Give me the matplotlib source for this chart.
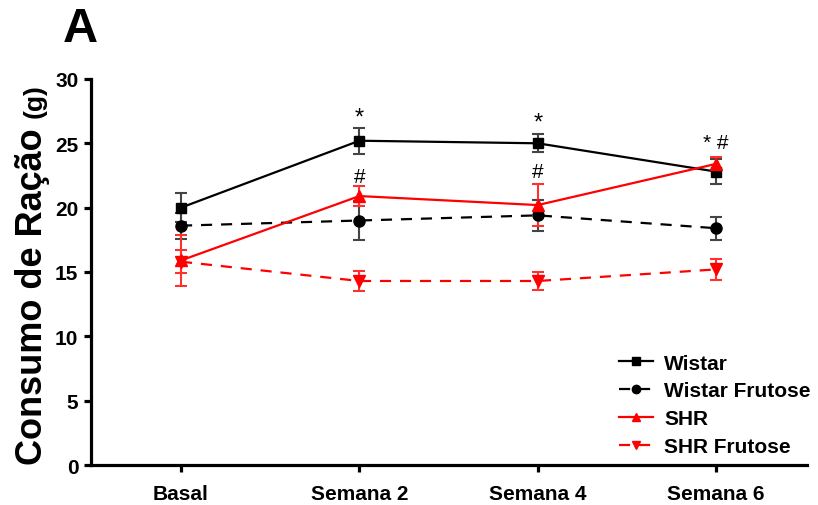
import matplotlib
matplotlib.use("Agg")
import matplotlib.pyplot as plt
from matplotlib.lines import Line2D

# Data
timepoints = ["Basal", "Semana 2", "Semana 4", "Semana 6"]

wistar = [20.0, 25.2, 25.0, 22.8]
wistar_err = [1.1, 1.0, 0.7, 1.0]

wistar_frut = [18.6, 19.0, 19.4, 18.4]
wistar_frut_err = [1.0, 1.5, 1.2, 0.9]

shr = [15.9, 20.9, 20.2, 23.4]
shr_err = [2.0, 0.8, 1.6, 0.5]

shr_frut = [15.8, 14.3, 14.3, 15.2]
shr_frut_err = [0.9, 0.8, 0.7, 0.8]

# significance marks: (timepoint index, y, text)
marks = [
    (1, 27.0, "*"),
    (2, 26.6, "*"),
    (1, 22.4, "#"),
    (2, 22.8, "#"),
    (3, 25.1, "* #"),
]

plt.rcParams["font.family"] = ["Liberation Sans", "DejaVu Sans"]

fig = plt.figure(figsize=(8.18, 5.06), dpi=100)
ax = fig.add_axes([0.1112, 0.079, 0.8754, 0.763])

x = list(range(len(timepoints)))

series = [
    ("Wistar", wistar, wistar_err, "black", "-", "s", 7),
    ("Wistar Frutose", wistar_frut, wistar_frut_err, "black", (0, (5, 4)), "o", 8),
    ("SHR", shr, shr_err, "red", "-", "^", 9),
    ("SHR Frutose", shr_frut, shr_frut_err, "red", (0, (5, 4)), "v", 9),
]

handles = []
for name, vals, errs, col, ls, mk, ms in series:
    ecol = "#444444" if col == "black" else "#ff3030"
    ax.errorbar(x, vals, yerr=errs, color=col, ecolor=ecol, linestyle=ls,
                marker=mk, markersize=ms, linewidth=1.6, elinewidth=1.5,
                capsize=4.5, capthick=1.5)
    handles.append(Line2D([], [], color=col, linestyle=ls, linewidth=1.6,
                          marker=mk, markersize=6, label=name))

for i, y, t in marks:
    fs = 17 if t == "*" else 15
    ax.text(i, y, t, ha="center", va="center", fontsize=fs, color="black")

ax.set_xlim(-0.505, 3.51)
ax.set_ylim(0, 30)
ax.set_yticks([0, 5, 10, 15, 20, 25, 30])
ax.set_xticks(x)
ax.set_xticklabels(timepoints)

for s in ["top", "right"]:
    ax.spines[s].set_visible(False)
for s in ["left", "bottom"]:
    ax.spines[s].set_linewidth(2.3)

ax.tick_params(axis="both", width=2.3, length=5, labelsize=15, pad=4)
ax.tick_params(axis="x", pad=9)
for lab in ax.get_xticklabels() + ax.get_yticklabels():
    lab.set_fontweight("bold")

# y-axis title with a smaller unit part
fig.text(0.040, (506 - 297) / 506, "Consumo de Ração", rotation=90,
         ha="center", va="center", fontsize=26, fontweight="bold")
fig.text(0.042, (506 - 101) / 506, "(g)", rotation=90,
         ha="center", va="center", fontsize=19, fontweight="bold")

# panel letter
fig.text(0.077, (506 - 30) / 506, "A", ha="left", va="center",
         fontsize=35, fontweight="bold")

leg = ax.legend(handles=handles, loc="upper left", bbox_to_anchor=(0.757, 0.299),
                bbox_transform=fig.transFigure, frameon=False,
                fontsize=15, handlelength=1.6, handletextpad=0.55,
                labelspacing=0.42, borderpad=0.0, borderaxespad=0.0)
for t in leg.get_texts():
    t.set_fontweight("bold")

fig.savefig("out.png", dpi=100)
